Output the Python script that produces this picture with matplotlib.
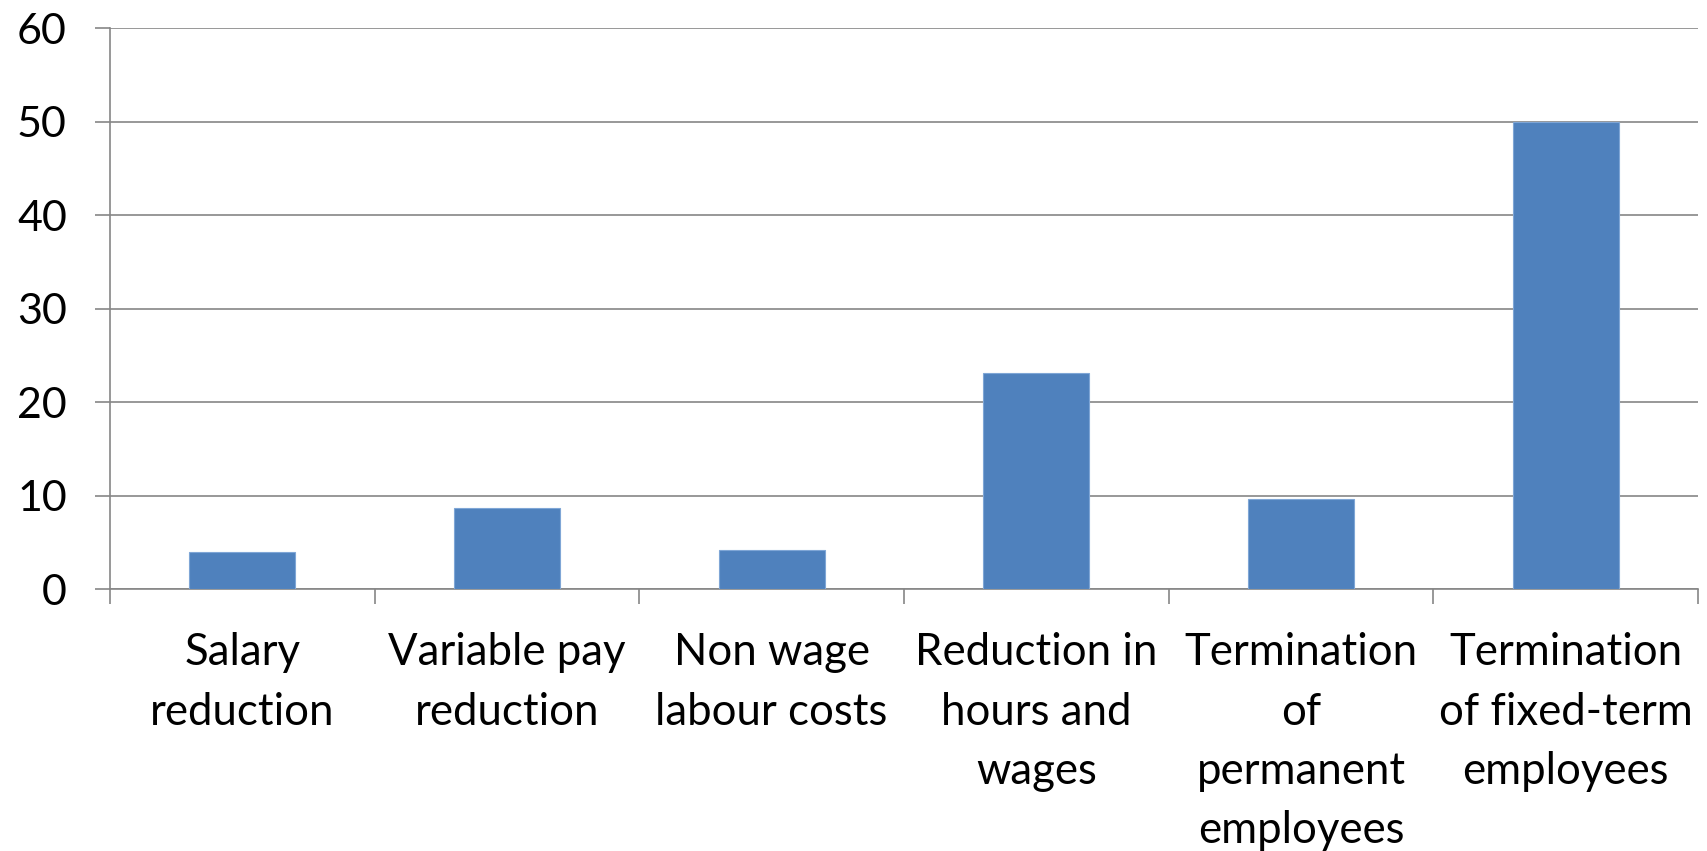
import matplotlib
matplotlib.use("Agg")
import matplotlib.pyplot as plt
import numpy as np

categories = [
    "Salary\nreduction",
    "Variable pay\nreduction",
    "Non wage\nlabour costs",
    "Reduction in\nhours and\nwages",
    "Termination\nof\npermanent\nemployees",
    "Termination\nof fixed-term\nemployees",
]
values = [4.0, 8.7, 4.2, 23.1, 9.7, 50.0]
y_ticks = [0, 10, 20, 30, 40, 50, 60]

plt.rcParams["font.family"] = ["Lato", "DejaVu Sans"]

fig = plt.figure(figsize=(17.07, 8.51), dpi=100)
ax = fig.add_axes([0.0644, 0.3075, 0.9303, 0.6595])

x = np.arange(len(categories))
grid_color = "#868686"

ax.set_axisbelow(True)
ax.yaxis.grid(True, color=grid_color, linewidth=1.2)
ax.bar(x, values, width=0.4, color="#4F81BD", edgecolor="#7FA6D6", linewidth=0.8, zorder=3)

ax.set_xlim(-0.5, len(categories) - 0.5)
ax.set_ylim(0, 60)
ax.set_yticks(y_ticks)
ax.set_yticklabels([str(t) for t in y_ticks], fontsize=31)

ax.set_xticks(x)
ax.set_xticklabels(categories, fontsize=31.5, linespacing=1.55, va="top")
ax.set_xticks(np.arange(-0.5, len(categories)), minor=True)

ax.tick_params(axis="x", which="major", length=0, pad=31)
ax.tick_params(axis="x", which="minor", length=11, width=1.2, color=grid_color)
ax.tick_params(axis="y", length=11, width=1.2, color=grid_color, pad=20)

for side in ("top", "right"):
    ax.spines[side].set_visible(False)
for side in ("left", "bottom"):
    ax.spines[side].set_color(grid_color)
    ax.spines[side].set_linewidth(1.2)

fig.savefig("out.png", dpi=100, facecolor="white")
